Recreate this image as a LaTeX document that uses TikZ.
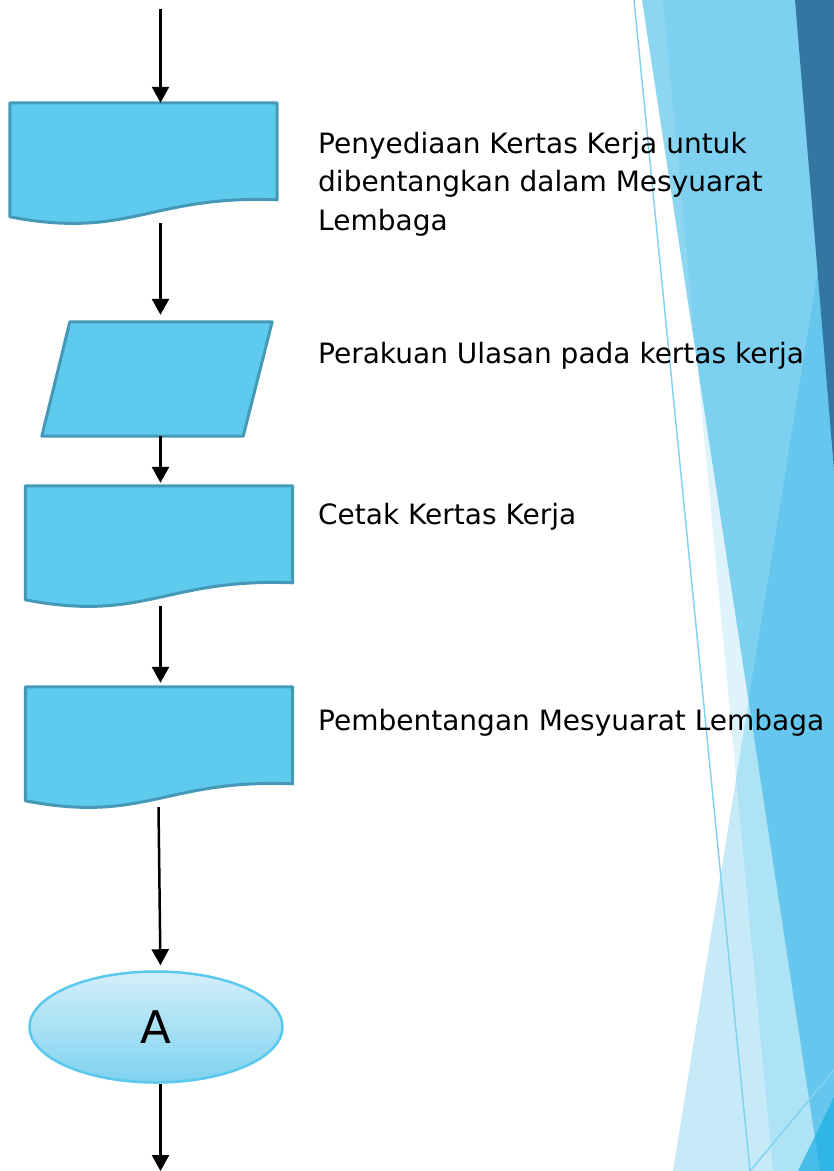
\documentclass[tikz,border=0pt]{standalone}
\usepackage{fontspec}
\setmainfont{DejaVu Sans}
\usetikzlibrary{shapes.geometric, arrows.meta, calc}
\definecolor{facet}{HTML}{1CADE4}
\definecolor{facetdark}{HTML}{3476A2}
\definecolor{boxfill}{HTML}{5DCAEE}
\definecolor{boxline}{HTML}{4599B7}
\definecolor{ovaltop}{HTML}{D3EFFA}
\definecolor{ovalbottom}{HTML}{7ED2F0}
\definecolor{ovalline}{HTML}{5BC8EE}
\tikzset{
    docbox/.style={inner sep=0pt, rectangle, minimum width=267pt, minimum height=120pt},
    iobox/.style={inner sep=0pt, rectangle, minimum width=230pt, minimum height=114pt},
    boxshape/.style={fill=boxfill, draw=boxline, line width=3pt, line join=round},
    joinoval/.style={inner sep=0pt, ellipse, minimum width=253pt, minimum height=111pt, top color=ovaltop, bottom color=ovalbottom, draw=ovalline, line width=2.5pt, font=\fontsize{45pt}{54pt}\selectfont},
    note/.style={anchor=base west, align=left, inner sep=0pt, font=\fontsize{28pt}{38.5pt}\selectfont},
    flow/.style={line width=2.5pt, -{Triangle[width=17pt, length=16pt]}},
}

\begin{document}
\begin{tikzpicture}[x=1pt, y=-1pt]
        \useasboundingbox (0,0) rectangle (834,1171);
        % facet background
        \fill[facet, opacity=.14] (663,0) -- (834,0) -- (834,1171) -- (773,1171) -- cycle;
        \fill[facet, opacity=.5] (642,0) -- (834,0) -- (834,1171) -- (820,1171) -- cycle;
        \fill[facet, opacity=.25] (834,170) -- (834,1171) -- (673,1171) -- cycle;
        \fill[facetdark] (795,0) -- (834,0) -- (834,470) -- cycle;
        \fill[facet, opacity=.7] (798,1171) -- (834,1097) -- (834,1171) -- cycle;
        \draw[facet!55, line width=1.5pt] (634,0) -- (750,1171) -- (834,1070);

        % flow chart
        \node[docbox] (kertas) at (143.5,163) {};
        \node[iobox] (ulasan) at (157,379) {};
        \node[docbox] (cetak) at (159,546) {};
        \node[docbox] (bentang) at (159,747) {};
        \node[joinoval] (sambung) at (156,1027) {A};
        \foreach \n in {kertas, cetak, bentang}
            \filldraw[boxshape] (\n.north west) -- (\n.north east) -- ($(\n.north east)+(0,97)$)
                .. controls ($(\n.north west)+(140,92)$) and ($(\n.north west)+(120,137)$) .. ($(\n.north west)+(0,114)$) -- cycle;
        \filldraw[boxshape] ($(ulasan.north west)+(28,0)$) -- (ulasan.north east) -- ($(ulasan.south east)+(-29,0)$) -- (ulasan.south west) -- cycle;

        \coordinate (mula) at (160.5,9);
        \coordinate (akhir) at (160.5,1171);
        \draw[flow] (mula) -- (mula |- kertas.north);
        \draw[flow, shorten >=7pt] (kertas.south -| mula) -- (ulasan.north -| mula);
        \draw[flow, shorten >=3pt] (ulasan.south -| mula) -- (cetak.north -| mula);
        \draw[flow, shorten >=4pt] (cetak.south -| mula) -- (bentang.north -| mula);
        \draw[flow, shorten >=5pt] ([xshift=-2pt]bentang.south -| mula) -- (sambung.north -| mula);
        \draw[flow] (sambung.south -| mula) -- (akhir);

        % notes
        \node[note] (t-kertas) at (318,230) {Penyediaan Kertas Kerja untuk\\dibentangkan dalam Mesyuarat\\Lembaga};
        \node[note] (t-ulasan) at (318,363) {Perakuan Ulasan pada kertas kerja};
        \node[note] (t-cetak) at (318,524) {Cetak Kertas Kerja};
        \node[note] (t-bentang) at (318,730) {Pembentangan Mesyuarat Lembaga};
\end{tikzpicture}
\end{document}
